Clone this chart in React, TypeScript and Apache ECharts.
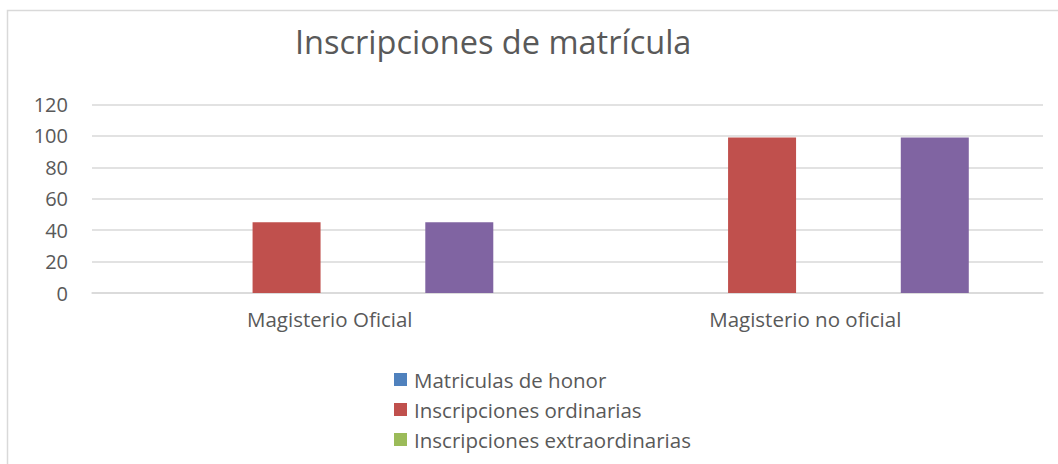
import React, { useEffect, useRef } from "react";
import * as echarts from "echarts";

const categories = ["Magisterio Oficial", "Magisterio no oficial"];
const matriculasHonor = [0, 0];
const inscripcionesOrdinarias = [45, 99];
const inscripcionesExtraordinarias = [0, 0];
const total = [45, 99];
const yTicks = { min: 0, max: 120, interval: 20 };

const FONT = "'Open Sans', 'Noto Sans', sans-serif";
const TEXT = "#595959";

export default function App() {
  const ref = useRef<HTMLDivElement>(null);
  useEffect(() => {
    if (!ref.current) return;
    const chart = echarts.init(ref.current, undefined, { renderer: "svg" });
    chart.setOption({
      animation: false,
      backgroundColor: "#ffffff",
      title: {
        text: "Inscripciones de matrícula",
        left: 290,
        top: 20,
        textStyle: { fontFamily: FONT, fontSize: 32.5, fontWeight: "normal", color: TEXT },
      },
      graphic: [
        {
          type: "rect",
          shape: { x: 7.5, y: 10.5, width: 1200, height: 600 },
          style: { fill: "none", stroke: "#d9d9d9", lineWidth: 1.5 },
          silent: true,
        },
      ],
      legend: {
        orient: "vertical",
        left: 394,
        top: 368,
        padding: 0,
        itemWidth: 13,
        itemHeight: 13,
        itemGap: 7,
        icon: "rect",
        data: ["Matriculas de honor", "Inscripciones ordinarias", "Inscripciones extraordinarias"],
        textStyle: { fontFamily: FONT, fontSize: 20.5, color: TEXT, padding: [0, 0, 0, 2], lineHeight: 23 },
      },
      grid: { left: 92, right: 15, top: 104.5, bottom: 171, containLabel: false },
      xAxis: {
        type: "category",
        data: categories,
        axisLine: { lineStyle: { color: "#d9d9d9", width: 1.5 } },
        axisTick: { show: false },
        axisLabel: { fontFamily: FONT, fontSize: 20.5, color: TEXT, margin: 15 },
      },
      yAxis: {
        type: "value",
        min: yTicks.min,
        max: yTicks.max,
        interval: yTicks.interval,
        axisLine: { show: false },
        axisTick: { show: false },
        splitLine: { lineStyle: { color: "#d9d9d9", width: 1.5 } },
        axisLabel: { fontFamily: FONT, fontSize: 20, color: TEXT, margin: 24 },
      },
      series: [
        { name: "Matriculas de honor", type: "bar", data: matriculasHonor, barWidth: 68, barGap: "27%", itemStyle: { color: "#4F81BD" } },
        { name: "Inscripciones ordinarias", type: "bar", data: inscripcionesOrdinarias, barWidth: 68, barGap: "27%", itemStyle: { color: "#C0504D" } },
        { name: "Inscripciones extraordinarias", type: "bar", data: inscripcionesExtraordinarias, barWidth: 68, barGap: "27%", itemStyle: { color: "#9BBB59" } },
        { name: "Total", type: "bar", data: total, barWidth: 68, barGap: "27%", itemStyle: { color: "#8064A2" } },
      ],
    });
    return () => chart.dispose();
  }, []);
  return <div ref={ref} style={{ position: "absolute", left: 0, top: 0, width: 1058, height: 464 }} />;
}
